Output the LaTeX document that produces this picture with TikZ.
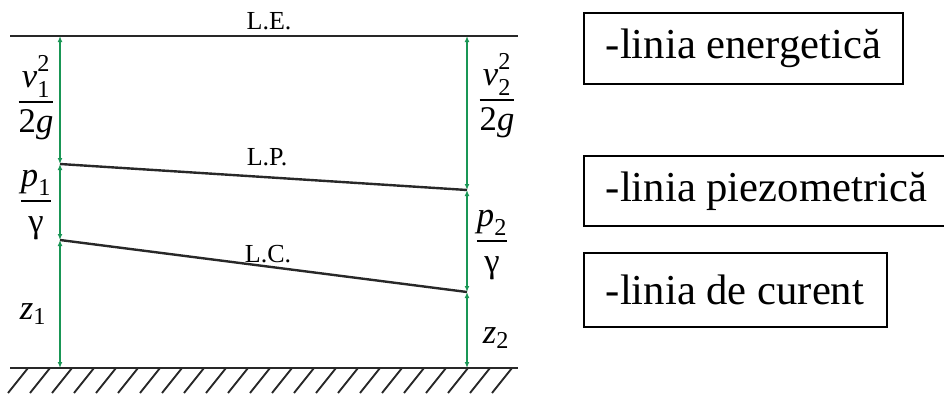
\documentclass[tikz,border=0pt]{standalone}
\usepackage{amsmath}
\usepackage{fontspec}
\setmainfont{Liberation Serif}
\usetikzlibrary{arrows.meta}
\definecolor{gr}{RGB}{25,150,85}
\definecolor{dk}{RGB}{40,40,40}
\tikzset{
  hline/.style={draw=dk, line width=1.8pt},
  meas/.style={draw=gr, line width=1.7pt, {Latex[length=4.5pt,width=3.6pt]}-{Latex[length=4.5pt,width=3.6pt]}},
  hatch/.style={draw=dk, line width=1.4pt},
  lbl/.style={font=\fontsize{19.5}{22}\selectfont, inner sep=0pt, anchor=base},
  mlbl/.style={font=\fontsize{26}{30}\selectfont, inner sep=0pt},
  legend/.style={draw=black, line width=1.3pt, anchor=north west,
     inner xsep=16.5pt, inner ysep=0pt, font=\fontsize{32}{38}\selectfont}
}
\newcommand{\vsq}[1]{\textit{v}^{\text{\raisebox{3pt}{2}}}_{\text{\raisebox{-1pt}{#1}}}}
\begin{document}
\begin{tikzpicture}[x=0.75pt,y=-0.75pt]
\useasboundingbox (0,0) rectangle (944,393);
% key points
\coordinate (A1) at (60,36);
\coordinate (A2) at (60,164);
\coordinate (A3) at (60,240);
\coordinate (A4) at (60,368);
\coordinate (B1) at (467,36);
\coordinate (B2) at (467,190);
\coordinate (B3) at (467,292);
\coordinate (B4) at (467,368);
\coordinate (LEs) at (10,36);
\coordinate (LEe) at (518,36);
\coordinate (Gs) at (10,368);
\coordinate (Ge) at (518,368);
% lines
\draw[hline] (LEs) -- (LEe);
\draw[hline] (A2) -- (B2);
\draw[hline] (A3) -- (B3);
\draw[hline] (Gs) -- (Ge);
% hatching
\foreach \k in {0,...,22} {
  \draw[hatch] (8+22*\k,393) -- (28+22*\k,368);
}
% measurement arrows
\draw[meas] (A2) -- (A1);
\draw[meas] (A3) -- (A2);
\draw[meas] (A4) -- (A3);
\draw[meas] (B2) -- (B1);
\draw[meas] (B3) -- (B2);
\draw[meas] (B4) -- (B3);
% line labels
\node[lbl] (tLE) at (269,29) {L.E.};
\node[lbl] (tLP) at (267,165) {L.P.};
\node[lbl] (tLC) at (268,262) {L.C.};
% math labels
\node[mlbl] (v1) at (36,98) {$\displaystyle\frac{\vsq{1}}{\text{2}\textit{g}}$};
\node[mlbl] (p1) at (36,205) {$\displaystyle\frac{\textit{p}_{\text{1}}}{\text{γ}}$};
\node[mlbl] (z1) at (33,314) {$\textit{z}_{\text{1}}$};
\node[mlbl] (v2) at (497,96) {$\displaystyle\frac{\vsq{2}}{\text{2}\textit{g}}$};
\node[mlbl] (p2) at (492,245) {$\displaystyle\frac{\textit{p}_{\text{2}}}{\text{γ}}$};
\node[mlbl] (z2) at (496,338) {$\textit{z}_{\text{2}}$};
% legend boxes
\node[legend, minimum height=53.25pt] (bE) at (583,12) {\makebox[206.25pt][l]{-linia energetică}};
\node[legend, minimum height=52.5pt] (bP) at (583,155) {\makebox[244.5pt][l]{-linia piezometrică}};
\node[legend, minimum height=55.5pt] (bC) at (583,252) {\makebox[194.25pt][l]{-linia de curent}};
\end{tikzpicture}
\end{document}
